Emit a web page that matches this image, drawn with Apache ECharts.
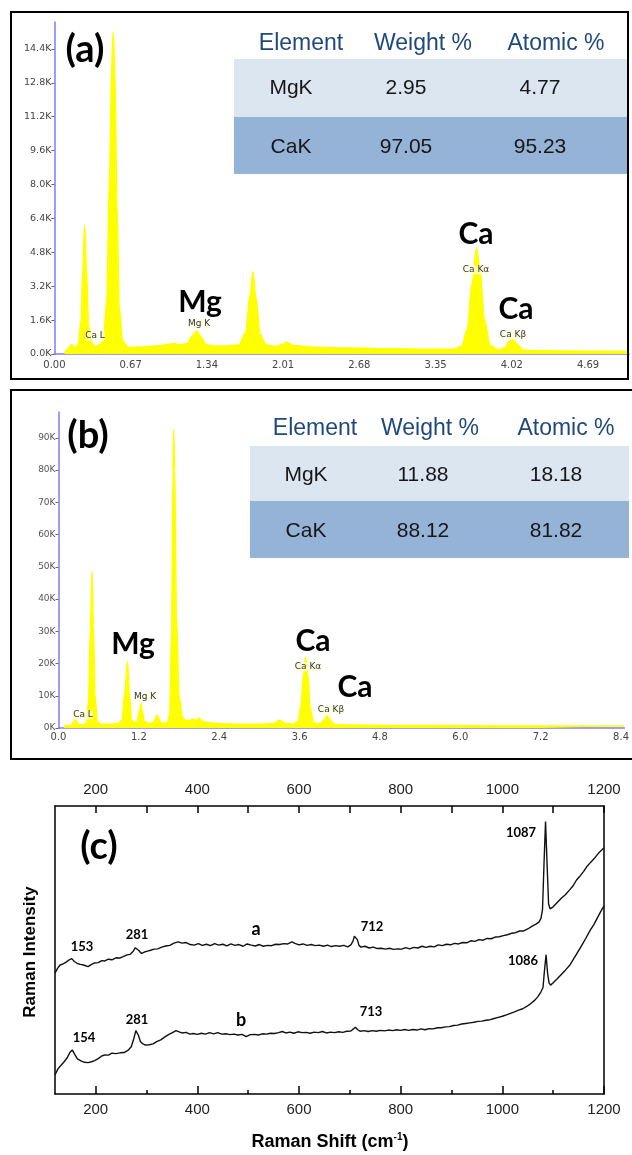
<!DOCTYPE html>
<html><head><meta charset="utf-8">
<script src="https://cdn.jsdelivr.net/npm/echarts@6/dist/echarts.min.js"></script>
<style>html,body{margin:0;padding:0;background:#fff}#c{width:632px;height:1155px}</style>
</head><body><div id="c"></div>
<script>
// ---------- DATA ----------
// (a) EDS spectrum: [energy keV, counts (K)]
const edsA = [[0.09,0.05],[0.12,0.25],[0.15,0.45],[0.18,0.3],[0.21,0.45],[0.235,1.6],[0.25,4.0],[0.266,6.1],[0.282,4.0],[0.30,1.3],[0.33,0.5],[0.36,0.35],[0.40,0.45],[0.43,0.6],[0.46,2.5],[0.485,8.5],[0.505,13.8],[0.517,15.2],[0.53,13.5],[0.55,7.0],[0.57,2.2],[0.60,0.6],[0.65,0.3],[0.75,0.33],[0.9,0.38],[1.0,0.45],[1.05,0.5],[1.1,0.42],[1.17,0.5],[1.21,0.85],[1.25,1.08],[1.29,0.8],[1.33,0.45],[1.4,0.38],[1.5,0.38],[1.62,0.42],[1.68,1.0],[1.72,2.8],[1.745,3.88],[1.77,2.7],[1.81,0.9],[1.86,0.42],[1.95,0.35],[2.0,0.45],[2.04,0.55],[2.1,0.4],[2.3,0.32],[2.6,0.28],[3.0,0.25],[3.3,0.22],[3.5,0.22],[3.58,0.35],[3.63,1.2],[3.67,3.3],[3.71,5.0],[3.74,4.0],[3.78,1.6],[3.83,0.4],[3.9,0.2],[3.96,0.3],[4.0,0.6],[4.03,0.68],[4.07,0.45],[4.12,0.18],[4.3,0.15],[4.7,0.13],[5.05,0.12]];
// (b) EDS spectrum
const edsB = [[0.08,0.3],[0.12,1.0],[0.16,0.6],[0.2,0.9],[0.23,2.0],[0.25,2.8],[0.28,1.8],[0.31,1.0],[0.36,1.0],[0.42,1.5],[0.45,9],[0.475,30],[0.50,48.5],[0.52,32],[0.545,10],[0.58,1.8],[0.65,1.2],[0.8,1.2],[0.9,1.4],[0.95,2.5],[0.99,11],[1.03,20.6],[1.06,10],[1.09,2.5],[1.14,1.6],[1.18,2.2],[1.21,5.5],[1.23,7.5],[1.255,5],[1.28,2],[1.35,1.4],[1.42,1.8],[1.45,3.2],[1.47,4.0],[1.5,2.8],[1.53,1.6],[1.62,1.5],[1.66,4],[1.69,30],[1.71,78],[1.72,92.5],[1.735,80],[1.76,35],[1.8,10],[1.85,3.5],[1.9,2.2],[1.96,2.3],[2.0,2.8],[2.05,2.4],[2.1,3.0],[2.15,2.0],[2.25,1.6],[2.4,1.3],[2.7,1.2],[3.0,1.2],[3.2,1.3],[3.3,2.4],[3.38,1.4],[3.5,1.2],[3.58,2],[3.62,7],[3.66,17],[3.69,22],[3.72,17],[3.76,6],[3.81,1.5],[3.9,1.3],[3.95,2.2],[4.01,3.7],[4.06,2.5],[4.11,1.1],[4.3,0.9],[5,0.8],[6,0.7],[7.2,0.6],[8.45,0.6]];
// (c) Raman spectra: [shift cm-1, intensity a.u.]
const ramanA = [[120,42],[125,43.6],[130,44.8],[136,45.2],[142,45.8],[148,46.6],[153,47],[158,46],[164,45.3],[170,45],[176,44.8],[185,44.2],[192,45],[198,45.5],[205,45.6],[212,46.3],[218,46.2],[225,46.8],[232,46.6],[240,47.3],[247,47.2],[254,47.7],[262,48.3],[268,48.5],[274,49.6],[278,50.8],[281,51.3],[285,49.8],[290,48.8],[296,49.3],[302,49.6],[308,49.9],[315,50.3],[322,50.4],[330,51],[338,51.4],[346,51.6],[354,52.4],[362,52.8],[370,52.4],[378,52.6],[386,51.9],[394,51.7],[402,52.2],[410,51.6],[418,52],[426,51.5],[434,52.2],[442,51.7],[450,52],[458,51.4],[466,52.1],[474,51.6],[482,51.9],[490,51.3],[498,52.1],[506,51.7],[514,51.4],[522,51.9],[530,51.3],[538,51.6],[546,51.5],[554,52],[562,51.9],[570,52.2],[578,52.1],[586,52.8],[592,52.3],[600,51.8],[608,52.1],[616,51.6],[624,51.9],[632,51.5],[640,51.7],[648,51.3],[656,51.7],[664,51.2],[672,51.5],[680,51.3],[688,51.6],[696,51.1],[702,51.8],[706,53],[709,54.8],[712,55.2],[715,53.5],[718,51.6],[722,51],[730,51.3],[738,50.7],[746,51],[754,50.5],[762,50.6],[770,50.3],[778,50.6],[786,50.2],[794,50.4],[802,50.3],[810,50.8],[818,50.4],[826,50.9],[834,50.7],[842,51.3],[850,50.9],[858,51.3],[866,51.1],[874,51.8],[882,51.5],[890,52],[898,51.8],[906,52.3],[914,52.1],[922,52.6],[930,52.5],[938,53.2],[946,53],[954,53.6],[962,53.4],[970,54],[978,53.9],[986,54.5],[994,54.6],[1002,55],[1010,55.3],[1018,55.8],[1026,56],[1034,56.6],[1042,56.6],[1050,57.3],[1058,58.2],[1066,59],[1072,59.7],[1076,61],[1079,64],[1082,80],[1085,94.6],[1088,80],[1091,66],[1094,64.3],[1100,65],[1108,66.5],[1116,68],[1124,69.2],[1132,70.8],[1140,72.5],[1146,74.3],[1152,75.5],[1160,77.3],[1166,78.9],[1174,80.5],[1182,82],[1190,83.8],[1196,84.8],[1200,85.5]];
const ramanB = [[120,6.6],[126,8.8],[132,10],[138,11.2],[144,12.6],[150,14.6],[154,15.3],[158,14],[164,12.2],[172,11.4],[178,11],[185,10.9],[192,11.2],[198,11.6],[205,12.3],[212,13.2],[218,13.6],[225,13.5],[232,14.2],[240,14],[248,14.3],[256,14.4],[264,15.2],[270,16.4],[275,19.2],[279,22],[281,22.2],[284,20.4],[288,18.2],[292,17.5],[298,17],[305,17.1],[313,17.4],[320,18.2],[328,18.8],[337,19.9],[345,20.8],[352,21.4],[358,22],[364,21.6],[370,21.2],[378,21.4],[385,20.8],[392,21],[400,20.7],[408,21.1],[416,20.8],[424,21.3],[432,20.9],[440,21.3],[448,20.8],[456,20.9],[464,20.6],[472,20.8],[480,20.5],[488,20.7],[496,19.9],[504,20.6],[512,20.7],[520,20.5],[528,20.9],[536,20.8],[544,21.1],[552,21],[560,21.3],[567,21.7],[574,21.2],[582,21.5],[590,21.1],[598,21.6],[606,21.3],[614,21.4],[622,21.1],[630,21.5],[638,21.3],[646,21.7],[654,21.2],[662,21.5],[670,21.3],[678,21.6],[686,21.4],[694,21.8],[702,21.9],[707,22.6],[711,23.2],[715,22.4],[720,21.8],[728,22],[736,21.7],[744,22],[752,21.8],[760,22.1],[768,21.9],[776,22.2],[784,22],[792,22.3],[800,22.1],[808,22.4],[816,22.1],[824,22.4],[832,22.2],[840,22.6],[848,22.3],[856,22.7],[864,22.6],[872,23],[880,23],[888,23.3],[896,23.4],[904,23.8],[912,23.9],[920,24.3],[928,24.5],[936,24.7],[944,24.9],[952,25.2],[960,25.3],[968,25.6],[976,25.8],[984,26.2],[992,26.6],[1000,27],[1008,27.5],[1016,28],[1024,28.5],[1032,29.1],[1040,29.6],[1048,30.4],[1056,31.4],[1064,32.6],[1070,33.8],[1076,35.5],[1080,37],[1083,43],[1086,48.3],[1089,42],[1092,38.5],[1095,37.8],[1100,38.6],[1108,40],[1116,41.5],[1124,43],[1133,44.8],[1140,46.8],[1148,49.2],[1156,51.5],[1164,54],[1173,56.9],[1180,58.8],[1188,61.5],[1194,63.5],[1200,65.3]];
// tables
const tableHeader = ['Element','Weight %','Atomic %'];
const tableA = [['MgK','2.95','4.77'],['CaK','97.05','95.23']];
const tableB = [['MgK','11.88','18.18'],['CaK','88.12','81.82']];
// tick values
const ramanMajor = [200,400,600,800,1000,1200];
const ramanMinor = [300,500,700,900,1100];
const ramanAllTicks = [200,300,400,500,600,700,800,900,1000,1100,1200];

// ---------- CHART ----------
const chart = echarts.init(document.getElementById('c'), null, {renderer:'canvas', width:632, height:1155});
const BLUE = '#7d7dff';
const lblFont = 'DejaVu Sans';
function T(x,y,s,o){o=o||{};return {type:'text',x:x,y:y,z:100,style:Object.assign({text:s,align:'center',verticalAlign:'middle',fill:'#000',font:(o.weight||'normal')+' '+(o.size||12)+'px '+(o.family||'Lato')},o.style||{}),rotation:o.rot||0};}

const g = [];
// frames
g.push({type:'rect',z:50,shape:{x:11,y:12,width:617,height:367},style:{fill:'none',stroke:'#000',lineWidth:2}});
g.push({type:'rect',z:50,shape:{x:11,y:390,width:640,height:369},style:{fill:'none',stroke:'#000',lineWidth:2}});
// tables
g.push({type:'rect',z:1,shape:{x:234,y:59,width:393,height:58},style:{fill:'#DCE6F1'}});
g.push({type:'rect',z:1,shape:{x:234,y:117,width:393,height:57},style:{fill:'#95B3D7'}});
g.push({type:'rect',z:1,shape:{x:250,y:446,width:379,height:55},style:{fill:'#DCE6F1'}});
g.push({type:'rect',z:1,shape:{x:250,y:501,width:379,height:57},style:{fill:'#95B3D7'}});
const hdrA=[301,423,556], colA=[291,406,540], hdrB=[315,430,566], colB=[306,423,556];
const hdrStyle = {size:23,family:'Liberation Sans',style:{fill:'#1F497D'}};
tableHeader.forEach((h,i)=>{g.push(T(hdrA[i],44,h,hdrStyle));g.push(T(hdrB[i],429,h,hdrStyle));});
const cellStyle = {size:21,family:'Liberation Sans',style:{fill:'#161616'}};
tableA.forEach((r,j)=>r.forEach((c,i)=>g.push(T(colA[i],[88,147][j],c,cellStyle))));
tableB.forEach((r,j)=>r.forEach((c,i)=>g.push(T(colB[i],[475,531][j],c,cellStyle))));
// panel labels
g.push(T(85,50,'(a)',{size:38,weight:'bold'}));
g.push(T(88,436,'(b)',{size:38,weight:'bold'}));
g.push(T(99,847,'(c)',{size:38,weight:'bold'}));
// annotations (a)
const small = {size:9,family:lblFont,style:{fill:'#333',backgroundColor:'rgba(255,255,220,0.7)'}};
g.push(T(95,336,'Ca L',small));
g.push(T(199,324,'Mg K',small));
g.push(T(200,302,'Mg',{size:30,weight:'bold'}));
g.push(T(476,270,'Ca K\u03b1',small));
g.push(T(476,234,'Ca',{size:30,weight:'bold'}));
g.push(T(513,335,'Ca K\u03b2',small));
g.push(T(516,309,'Ca',{size:30,weight:'bold'}));
// annotations (b)
g.push(T(83,715,'Ca L',small));
g.push(T(133,644,'Mg',{size:30,weight:'bold'}));
g.push(T(145,697,'Mg K',small));
g.push(T(313,641,'Ca',{size:30,weight:'bold'}));
g.push(T(308,667,'Ca K\u03b1',small));
g.push(T(355,687,'Ca',{size:30,weight:'bold'}));
g.push(T(331,710,'Ca K\u03b2',small));
// annotations (c)
const pk = {size:13,weight:'bold'};
g.push(T(82,947,'153',pk));
g.push(T(137,935,'281',pk));
g.push(T(256,929,'a',{size:18,weight:'bold'}));
g.push(T(372,927,'712',pk));
g.push(T(521,833,'1087',pk));
g.push(T(84,1038,'154',pk));
g.push(T(137,1020,'281',pk));
g.push(T(241,1020,'b',{size:18,weight:'bold'}));
g.push(T(371,1012,'713',pk));
g.push(T(523,961,'1086',pk));
g.push(T(30,952,'Raman Intensity',{size:17,weight:'bold',family:'Liberation Sans',rot:Math.PI/2}));
g.push({type:'text',x:330,y:1142,z:100,style:{text:'{b|Raman Shift (cm}{s|-1}{b|)}',align:'center',verticalAlign:'middle',rich:{b:{fontSize:18,fontWeight:'bold',fontFamily:'Liberation Sans',fill:'#000',lineHeight:20},s:{fontSize:10,fontWeight:'bold',fontFamily:'Liberation Sans',fill:'#000',verticalAlign:'top',lineHeight:20}}}});

const edsAxisX = {axisLine:{show:true,lineStyle:{color:BLUE,width:1.5}},axisTick:{show:false},splitLine:{show:false}};
const ramanLabel = {fontFamily:'Liberation Sans',fontSize:15,color:'#222',formatter:v=>String(Math.round(v))};

const option = {
  animation:false,
  backgroundColor:'#fff',
  grid:[
    {left:54.4,right:3,top:22,bottom:801},
    {left:58.5,right:1.6,top:412,bottom:427},
    {left:55,right:28,top:806,bottom:61}
  ],
  xAxis:[
    Object.assign({type:'value',gridIndex:0,min:0,max:5.05,interval:0.67},edsAxisX,{axisLabel:{showMaxLabel:false,fontFamily:lblFont,fontSize:10,color:'#444',margin:6,formatter:v=>v.toFixed(2)}}),
    Object.assign({type:'value',gridIndex:1,min:0,max:8.45,interval:1.2},edsAxisX,{axisLabel:{showMaxLabel:false,fontFamily:lblFont,fontSize:10,color:'#444',margin:4,formatter:v=>v.toFixed(1)}}),
    {type:'value',gridIndex:2,min:120,max:1200,position:'bottom',axisLine:{show:true,onZero:false,lineStyle:{color:'#000',width:1.5}},
     axisTick:{show:true,inside:true,length:8,customValues:ramanMajor,lineStyle:{color:'#000',width:1.5}},
     axisLabel:Object.assign({customValues:ramanMajor,margin:8},ramanLabel),splitLine:{show:false}},
    {type:'value',gridIndex:2,min:120,max:1200,position:'bottom',axisLine:{show:false,onZero:false},
     axisTick:{show:true,inside:true,length:4,customValues:ramanMinor,lineStyle:{color:'#000',width:1.5}},
     axisLabel:{show:false},splitLine:{show:false}},
    {type:'value',gridIndex:2,min:120,max:1200,position:'top',axisLine:{show:true,onZero:false,lineStyle:{color:'#000',width:1.5}},
     axisTick:{show:true,inside:true,length:7,customValues:ramanAllTicks,lineStyle:{color:'#000',width:1.5}},
     axisLabel:Object.assign({customValues:ramanMajor,margin:9},ramanLabel),splitLine:{show:false}}
  ],
  yAxis:[
    {type:'value',gridIndex:0,min:0,max:15.67,interval:1.6,axisLine:{show:true,lineStyle:{color:BLUE,width:1.5}},axisTick:{show:true,length:3,lineStyle:{color:'#666'}},splitLine:{show:false},
     axisLabel:{showMaxLabel:false,fontFamily:lblFont,fontSize:9.5,color:'#444',margin:3,formatter:v=>v.toFixed(1)+'K'}},
    {type:'value',gridIndex:1,min:0,max:98,interval:10,axisLine:{show:true,lineStyle:{color:BLUE,width:1.5}},axisTick:{show:true,length:3,lineStyle:{color:'#666'}},splitLine:{show:false},
     axisLabel:{showMaxLabel:false,fontFamily:lblFont,fontSize:9,color:'#555',margin:3,formatter:v=>Math.round(v)+'K'}},
    {type:'value',gridIndex:2,min:0,max:100,position:'left',axisLine:{show:true,onZero:false,lineStyle:{color:'#000',width:1.5}},axisTick:{show:false},axisLabel:{show:false},splitLine:{show:false}},
    {type:'value',gridIndex:2,min:0,max:100,position:'right',axisLine:{show:true,onZero:false,lineStyle:{color:'#000',width:1.5}},axisTick:{show:false},axisLabel:{show:false},splitLine:{show:false}}
  ],
  series:[
    {type:'line',xAxisIndex:0,yAxisIndex:0,data:edsA,symbol:'none',smooth:0.3,smoothMonotone:'x',lineStyle:{color:'#FFFF00',width:1.5},areaStyle:{color:'#FFFF00',opacity:1},z:3},
    {type:'line',xAxisIndex:1,yAxisIndex:1,data:edsB,symbol:'none',smooth:0.3,smoothMonotone:'x',lineStyle:{color:'#FFFF00',width:1.5},areaStyle:{color:'#FFFF00',opacity:1},z:3},
    {type:'line',xAxisIndex:2,yAxisIndex:2,data:ramanA,symbol:'none',lineStyle:{color:'#111',width:1.4}},
    {type:'line',xAxisIndex:2,yAxisIndex:2,data:ramanB,symbol:'none',lineStyle:{color:'#111',width:1.4}}
  ],
  graphic:g
};
chart.setOption(option);
</script></body></html>
